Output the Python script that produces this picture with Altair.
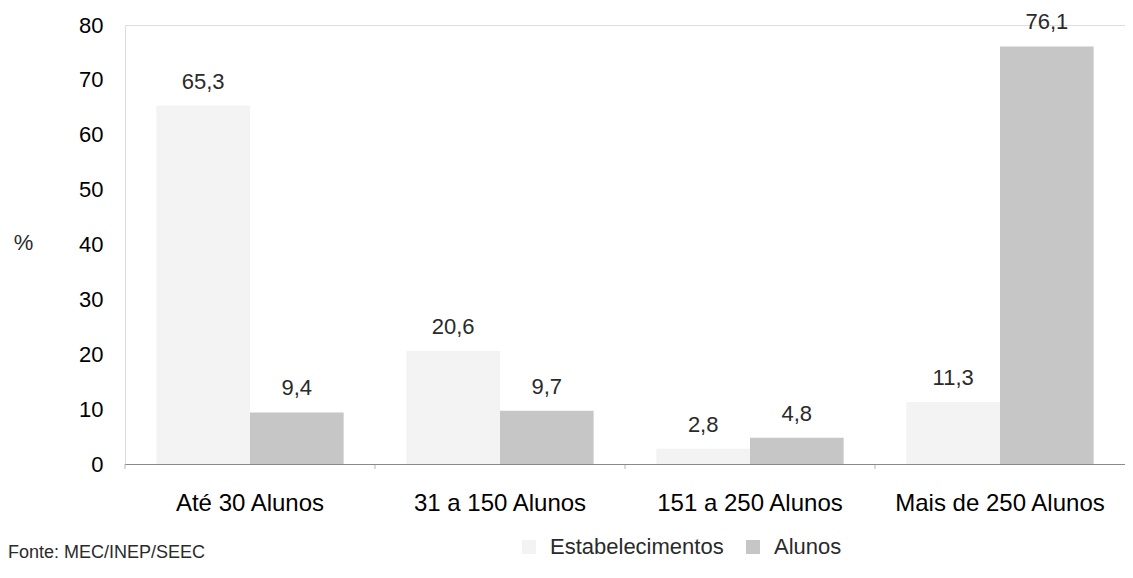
import altair as alt
import pandas as pd

categories = ["Até 30 Alunos", "31 a 150 Alunos", "151 a 250 Alunos", "Mais de 250 Alunos"]
series = ["Estabelecimentos", "Alunos"]
estabelecimentos = [65.3, 20.6, 2.8, 11.3]
alunos = [9.4, 9.7, 4.8, 76.1]
y_ticks = [0, 10, 20, 30, 40, 50, 60, 70, 80]
colors = ["#f3f3f3", "#c6c6c6"]
fonte = "Fonte: MEC/INEP/SEEC"

rows = []
for c, e, a in zip(categories, estabelecimentos, alunos):
    rows.append({"cat": c, "serie": series[0], "valor": e, "label": f"{e:.1f}".replace(".", ",")})
    rows.append({"cat": c, "serie": series[1], "valor": a, "label": f"{a:.1f}".replace(".", ",")})
df = pd.DataFrame(rows)
cat_df = pd.DataFrame({"cat": categories})

FONT = "Liberation Sans"
TXT = "#2a2a2a"
H = 439

x_scale = alt.Scale(paddingInner=0, paddingOuter=0)
xo_scale = alt.Scale(paddingInner=0, paddingOuter=0.335)
y_scale = alt.Scale(domain=[0, 80], nice=False)

x_axis = alt.Axis(
    title=None,
    labelAngle=0,
    domainColor="#8a8a8a",
    domainWidth=1.2,
    ticks=False,
    labelPadding=27,
    labelFontSize=24,
    labelLimit=0,
    grid=False,
    zindex=1,
)
y_axis = alt.Axis(
    values=y_ticks,
    title="%",
    titleAngle=0,
    titleX=-102,
    titleY=217,
    titleAlign="center",
    titleBaseline="middle",
    titleFontSize=22,
    titleFontWeight="normal",
    titleFont=FONT,
    titleColor=TXT,
    domain=False,
    domainColor="#ffffff",
    ticks=False,
    grid=False,
    labelPadding=22,
    labelFontSize=22,
)

bars = alt.Chart(df).mark_bar(strokeWidth=0).encode(
    x=alt.X("cat:N", sort=categories, scale=x_scale, axis=x_axis),
    xOffset=alt.XOffset("serie:N", sort=series, scale=xo_scale),
    y=alt.Y("valor:Q", scale=y_scale, axis=y_axis),
    color=alt.Color(
        "serie:N",
        sort=series,
        scale=alt.Scale(domain=series, range=colors),
        legend=alt.Legend(
            title=None,
            orient="none",
            legendX=393,
            legendY=511,
            direction="horizontal",
            symbolType="square",
            symbolSize=196,
            symbolStrokeWidth=0,
            labelFontSize=22,
            labelFont=FONT,
            labelColor=TXT,
            labelOffset=10,
            labelLimit=0,
            columnPadding=18,
        ),
    ),
)

labels = alt.Chart(df).mark_text(
    font=FONT, fontSize=22, color=TXT, baseline="middle", dy=-24
).encode(
    x=alt.X("cat:N", sort=categories, scale=x_scale, axis=x_axis),
    xOffset=alt.XOffset("serie:N", sort=series, scale=xo_scale),
    y=alt.Y("valor:Q", scale=y_scale, axis=y_axis),
    text="label:N",
)

ticks = alt.Chart(cat_df).mark_rule(color="#b5b5b5", strokeWidth=1).encode(
    x=alt.X("cat:N", sort=categories, scale=x_scale, axis=x_axis, bandPosition=0),
    y=alt.value(H),
    y2=alt.value(H + 5),
)

fonte_df = pd.DataFrame({"t": [fonte]})
fonte_txt = alt.Chart(fonte_df).mark_text(
    font=FONT, fontSize=18, color=TXT, align="left", baseline="alphabetic"
).encode(
    x=alt.value(-117),
    y=alt.value(533),
    text="t:N",
)

chart = (
    alt.layer(bars, labels, ticks, fonte_txt)
    .properties(
        width=1000,
        height=H,
        autosize=alt.AutoSizeParams(type="none"),
        padding={"left": 117, "top": 17, "right": 0, "bottom": 99},
    )
    .configure_view(stroke="#ffffff", strokeWidth=0, strokeOpacity=0)
    .configure_axisY(domain=False, domainColor="#ffffff", ticks=False, grid=False)
    .configure_axisX(grid=False)
    .configure_axis(labelFont=FONT, labelColor=TXT)
    .configure(background="white")
)

chart.save("out.html", embed_options={"renderer": "svg", "actions": False})
